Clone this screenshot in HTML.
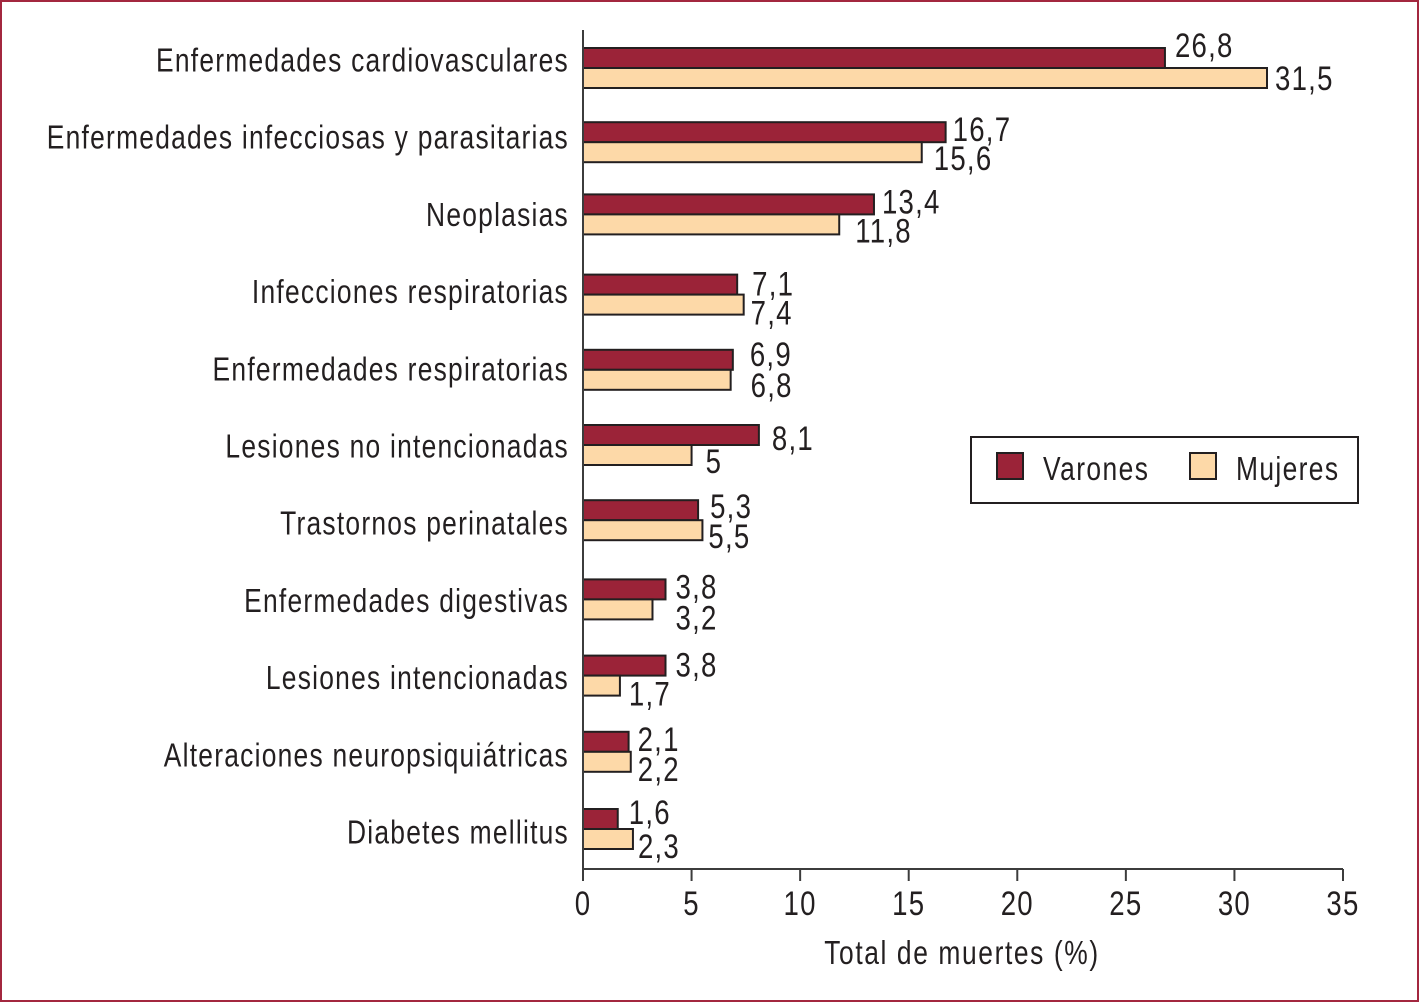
<!DOCTYPE html>
<html lang="es">
<head>
<meta charset="utf-8">
<title>Total de muertes por causa</title>
<style>
html,body{margin:0;padding:0;background:#fff;}
svg{display:block;}
text{font-family:"Liberation Sans",sans-serif;fill:#231f20;}
</style>
</head>
<body>
<svg id="chart" xmlns="http://www.w3.org/2000/svg" width="1420" height="1003" viewBox="0 0 1420 1003">
  <rect x="1" y="1" width="1417" height="1000" fill="#fff" stroke="#a3273f" stroke-width="2"/>
  <g id="bars"></g>
  <g id="values"></g>
  <g id="cats"></g>
  <g id="axis"></g>
  <line x1="583" y1="30" x2="583" y2="881" stroke="#3c3c3c" stroke-width="2"/>
  <text transform="translate(962,964) scale(.8,1)" text-anchor="middle" font-size="33" letter-spacing="2">Total de muertes (%)</text>
  <g>
    <rect x="971" y="437" width="387" height="66" fill="#fff" stroke="#231f20" stroke-width="2"/>
    <rect x="997" y="453" width="26" height="26" fill="#9b2338" stroke="#231f20" stroke-width="2"/>
    <text transform="translate(1043,480) scale(.8,1)" font-size="33" letter-spacing="1.8">Varones</text>
    <rect x="1190" y="453" width="26" height="26" fill="#fdd9a8" stroke="#231f20" stroke-width="2"/>
    <text transform="translate(1236,480) scale(.8,1)" font-size="33" letter-spacing="1.7">Mujeres</text>
  </g>
</svg>
<script>
const categories = ["Enfermedades cardiovasculares","Enfermedades infecciosas y parasitarias","Neoplasias","Infecciones respiratorias","Enfermedades respiratorias","Lesiones no intencionadas","Trastornos perinatales","Enfermedades digestivas","Lesiones intencionadas","Alteraciones neuropsiquiátricas","Diabetes mellitus"];
const varones = [26.8,16.7,13.4,7.1,6.9,8.1,5.3,3.8,3.8,2.1,1.6];
const mujeres = [31.5,15.6,11.8,7.4,6.8,5,5.5,3.2,1.7,2.2,2.3];
const xTicks = [0,5,10,15,20,25,30,35];

const NS = "http://www.w3.org/2000/svg";
const X0 = 583, X1 = 1343, XMAX = 35;
const BAR_H = 20, FIRST_CENTER = 67, BAND = 76.2, LABEL_FIRST = 71.5, LABEL_BAND = 77.2;
const SX = 0.8, FS = 33, VALUE_FS = 34.5, LS = 1.55;

/* Layout tweaks only: the original figure was hand-adjusted, so each group and
   label sits a few pixels off a strict band. Marks still derive from the data. */
function groupNudge(i){ return [1,-1,-5,-1,-2,-3,-4,-1,-1,-1,0][i]; }
function gapM(i){ return [10,7,8,15,17,13,12,10,10,9,11][i]; }
function gapF(i){ return [8,12,16,7,20,14,6,23,9,7,5][i]; }
function riseM(i){ return [-11,-1,-1,1,-4,5,-2,-1,1,-1,-5][i]; }
function riseF(i){ return [22,28,28,30,27,28,28,30,30,29,29][i]; }

function xScale(v){ return X0 + (v / XMAX) * (X1 - X0); }
function bandCenter(i){ return FIRST_CENTER + i * BAND + groupNudge(i); }
function fmt(v){ return String(v).replace(".", ","); }
function make(tag, parent, attrs){
  const el = document.createElementNS(NS, tag);
  for (const k in attrs) el.setAttribute(k, attrs[k]);
  parent.appendChild(el);
  return el;
}

const barsG = document.getElementById("bars");
const valuesG = document.getElementById("values");
const catsG = document.getElementById("cats");
const axisG = document.getElementById("axis");

categories.forEach(function(name, i){
  const c = bandCenter(i);

  const cat = make("text", catsG, {transform:"translate(569," + (LABEL_FIRST + i * LABEL_BAND) + ") scale(" + SX + ",1)", "text-anchor":"end", "font-size":FS, "letter-spacing":LS});
  cat.textContent = name;
  
  

  const barM = make("rect", barsG, {x:X0, y:c - BAR_H, width:xScale(varones[i]) - X0, height:BAR_H, fill:"#9b2338", stroke:"#231f20", "stroke-width":2});
  
  

  const barF = make("rect", barsG, {x:X0, y:c, width:xScale(mujeres[i]) - X0, height:BAR_H, fill:"#fdd9a8", stroke:"#231f20", "stroke-width":2});
  
  

  const valM = make("text", valuesG, {transform:"translate(" + (xScale(varones[i]) + gapM(i)) + "," + (c + riseM(i)) + ") scale(" + SX + ",1)", "font-size":VALUE_FS, "letter-spacing":LS});
  valM.textContent = fmt(varones[i]);
  
  

  const valF = make("text", valuesG, {transform:"translate(" + (xScale(mujeres[i]) + gapF(i)) + "," + (c + riseF(i)) + ") scale(" + SX + ",1)", "font-size":VALUE_FS, "letter-spacing":LS});
  valF.textContent = fmt(mujeres[i]);
  
  
});

const axisLine = make("line", axisG, {x1:X0, y1:869, x2:X1, y2:869, stroke:"#3c3c3c", "stroke-width":2});



xTicks.forEach(function(t){
  const x = xScale(t);
  const tick = make("line", axisG, {x1:x, y1:869, x2:x, y2:881, stroke:"#3c3c3c", "stroke-width":2});
  
  

  const lab = make("text", axisG, {transform:"translate(" + x + ",915) scale(" + SX + ",1)", "text-anchor":"middle", "font-size":VALUE_FS, "letter-spacing":LS});
  lab.textContent = t;
  
  
});
</script>
</body>
</html>
